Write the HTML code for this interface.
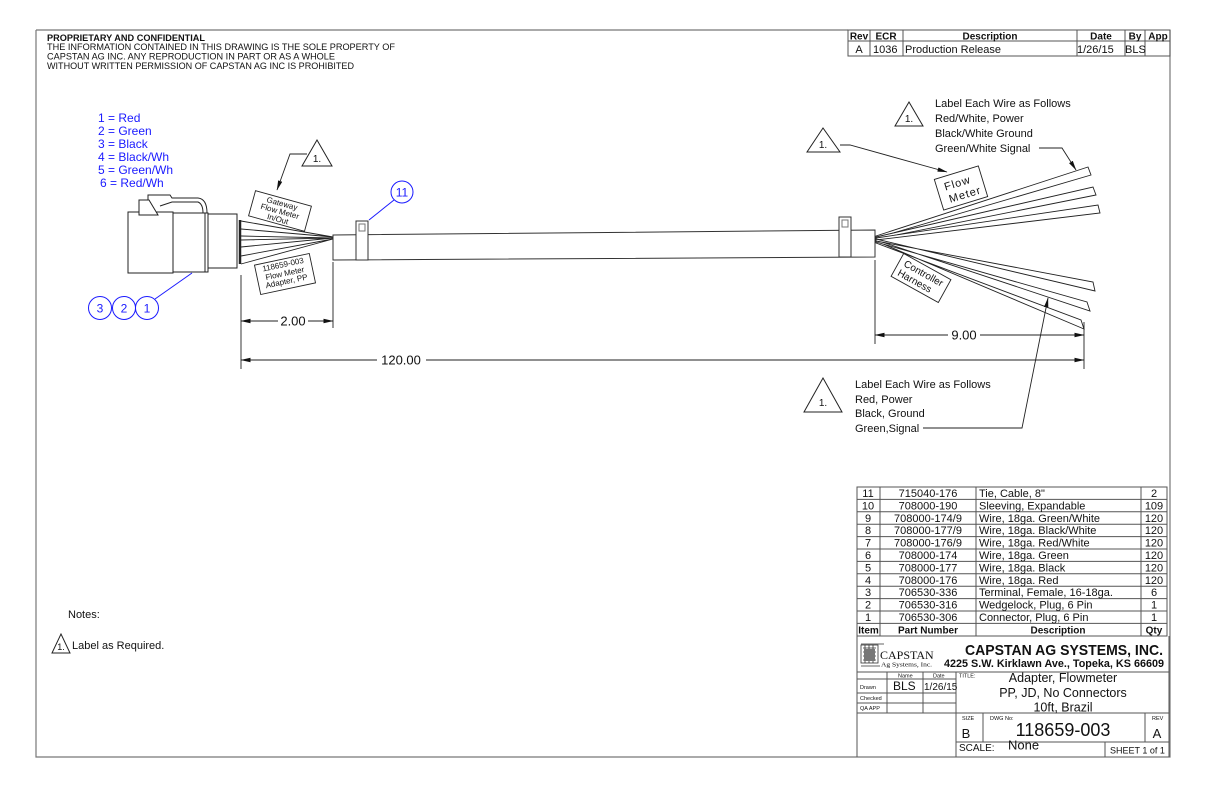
<!DOCTYPE html>
<html><head><meta charset="utf-8"><style>
html,body{margin:0;padding:0;background:#fff;}
svg{display:block;}
text{font-family:"Liberation Sans",sans-serif;fill:#111;}
text.b{fill:#1a1aff;}
text.serif{font-family:"Liberation Serif",serif;}
</style></head><body>
<svg width="1224" height="792" viewBox="0 0 1224 792" xmlns="http://www.w3.org/2000/svg">
<defs>
<marker id="ar" markerWidth="10" markerHeight="6" refX="9.5" refY="3" orient="auto" markerUnits="userSpaceOnUse"><path d="M0,0.8 L10,3 L0,5.2 Z" fill="#111"/></marker>
</defs>
<rect width="1224" height="792" fill="#fff"/>
<!-- frame -->
<g fill="none" stroke="#777" stroke-width="1.2">
<path d="M36,30 H848 M36,30 V757 H1170 V30"/>
</g>
<!-- header -->
<text x="47" y="41" font-size="9.5" font-weight="bold" textLength="158" lengthAdjust="spacingAndGlyphs">PROPRIETARY AND CONFIDENTIAL</text>
<text x="47" y="50" font-size="9.5" textLength="348" lengthAdjust="spacingAndGlyphs">THE INFORMATION CONTAINED IN THIS DRAWING IS THE SOLE PROPERTY OF</text>
<text x="47" y="59.5" font-size="9.5" textLength="288" lengthAdjust="spacingAndGlyphs">CAPSTAN AG INC. ANY REPRODUCTION IN PART OR AS A WHOLE</text>
<text x="47" y="69" font-size="9.5" textLength="307" lengthAdjust="spacingAndGlyphs">WITHOUT WRITTEN PERMISSION OF CAPSTAN AG INC IS PROHIBITED</text>
<!-- rev table -->
<g fill="none" stroke="#555" stroke-width="1">
<rect x="848" y="30" width="322" height="26"/>
<path d="M848,41 H1170 M870,30 V56 M903,30 V56 M1077,30 V56 M1125,30 V56 M1145,30 V56"/>
</g>
<g font-size="10" font-weight="bold" text-anchor="middle">
<text x="859" y="39.5">Rev</text><text x="886" y="39.5">ECR</text><text x="990" y="39.5">Description</text>
<text x="1101" y="39.5">Date</text><text x="1135" y="39.5">By</text><text x="1158" y="39.5">App</text>
</g>
<g font-size="11">
<text x="859" y="53" text-anchor="middle">A</text><text x="873" y="53">1036</text>
<text x="905" y="53">Production Release</text><text x="1077" y="53">1/26/15</text><text x="1125" y="53">BLS</text>
</g>
<!-- color legend -->
<g font-size="12">
<text class="b" x="98" y="122">1 = Red</text>
<text class="b" x="98" y="135">2 = Green</text>
<text class="b" x="98" y="148">3 = Black</text>
<text class="b" x="98" y="161">4 = Black/Wh</text>
<text class="b" x="98" y="174">5 = Green/Wh</text>
<text class="b" x="100" y="187">6 = Red/Wh</text>
</g>
<!-- connector -->
<g fill="#fff" stroke="#222" stroke-width="1">
<path d="M148,200 V195 H170 L172,198 H198 Q207,199 207,213" fill="none"/>
<path d="M160,206 L172,202 H198 Q203,204 203,213" fill="none"/>
<rect x="128" y="212" width="45" height="61"/>
<rect x="173" y="213" width="35" height="59"/>
<line x1="205" y1="213" x2="205" y2="272"/>
<rect x="208" y="214" width="29" height="54"/>
<path d="M139,215 V200 H149 L158,215 Z"/>
</g>
<line x1="240" y1="220" x2="240" y2="264" stroke="#222" stroke-width="2.5"/>
<!-- left wires -->
<g stroke="#222" stroke-width="0.9" fill="none">
<path d="M241,221 L333,237 M241,229 L333,237 M241,236 L333,238 M241,240 L333,238 M241,247 L333,238 M241,256 L333,239 M241,264 L333,239"/>
</g>
<!-- sleeve -->
<polygon points="333,235 875,230 875,257 333,260" fill="#fff" stroke="#333" stroke-width="1"/>
<g fill="#fff" stroke="#333" stroke-width="1">
<rect x="356" y="221" width="12" height="39"/>
<rect x="359" y="224" width="6" height="7" stroke="#777"/>
<rect x="839" y="217" width="12" height="40"/>
<rect x="842" y="220" width="6" height="7" stroke="#777"/>
</g>
<!-- right wires -->
<g fill="#fff" stroke="#222" stroke-width="0.9">
<polygon points="876,236 1088,167 1091,175 876,238"/>
<polygon points="876,237 1093,187 1096,195 876,239"/>
<polygon points="876,238 1098,205 1100,213 876,240"/>
<polygon points="876,243 1081,320 1084,329 876,241"/>
<polygon points="876,242 1087,302 1090,311 876,240"/>
<polygon points="876,241 1093,282 1095,291 876,239"/>
</g>
<!-- labels left -->
<g transform="translate(280,211) rotate(15.5)">
<rect x="-29" y="-13" width="58" height="26" fill="#fff" stroke="#222" stroke-width="0.9"/>
<text x="0" y="-5" font-size="8" text-anchor="middle">Gateway</text>
<text x="0" y="3" font-size="8" text-anchor="middle">Flow Meter</text>
<text x="0" y="11" font-size="8" text-anchor="middle">In/Out</text>
</g>
<g transform="translate(285,274) rotate(-12)">
<rect x="-28" y="-15" width="56" height="30" fill="#fff" stroke="#222" stroke-width="0.9"/>
<text x="0" y="-7" font-size="8" text-anchor="middle">118659-003</text>
<text x="0" y="2" font-size="8" text-anchor="middle">Flow Meter</text>
<text x="0" y="10" font-size="8" text-anchor="middle">Adapter, PP</text>
</g>
<!-- triangle + leader left -->
<polygon points="317,140 302,166 332,166" fill="#fff" stroke="#222" stroke-width="1"/>
<text x="317" y="162" font-size="10" text-anchor="middle">1.</text>
<path d="M307,154 H290 L277,190" fill="none" stroke="#222" stroke-width="0.9" marker-end="url(#ar)"/>
<!-- balloons -->
<g fill="#fff" stroke="#1a1aff" stroke-width="1">
<circle cx="402" cy="192" r="11"/>
<circle cx="100" cy="308" r="11.5"/>
<circle cx="124" cy="308" r="11.5"/>
<circle cx="147" cy="308" r="11.5"/>
<line x1="394" y1="200" x2="369" y2="220"/>
<line x1="155" y1="299" x2="192" y2="273"/>
</g>
<g font-size="12" text-anchor="middle">
<text class="b" x="402" y="196.5">11</text>
<text class="b" x="100" y="312.5">3</text>
<text class="b" x="124" y="312.5">2</text>
<text class="b" x="147" y="312.5">1</text>
</g>
<!-- dimensions -->
<g stroke="#222" stroke-width="0.9" fill="none">
<path d="M241,275 V369 M333,262 V328 M875,260 V344 M1084,322 V369"/>
<path d="M278,321 H241" marker-end="url(#ar)"/><path d="M308,321 H333" marker-end="url(#ar)"/>
<path d="M377,360 H241" marker-end="url(#ar)"/><path d="M426,360 H1084" marker-end="url(#ar)"/>
<path d="M948,335 H875" marker-end="url(#ar)"/><path d="M980,335 H1084" marker-end="url(#ar)"/>
</g>
<g font-size="13" text-anchor="middle">
<text x="293" y="325.5">2.00</text>
<text x="401" y="364.5">120.00</text>
<text x="964" y="339.5">9.00</text>
</g>
<!-- right labels -->
<g transform="translate(961,188) rotate(-17)">
<rect x="-23" y="-16" width="46" height="32" fill="#fff" stroke="#222" stroke-width="0.9"/>
<text x="-2" y="-2" font-size="11" text-anchor="middle" letter-spacing="1">Flow</text>
<text x="2" y="11" font-size="11" text-anchor="middle" letter-spacing="1">Meter</text>
</g>
<g transform="translate(921,278) rotate(29)">
<rect x="-27" y="-13" width="54" height="26" fill="#fff" stroke="#222" stroke-width="0.9"/>
<text x="0" y="-2" font-size="10" text-anchor="middle">Controller</text>
<text x="-4" y="9" font-size="10" text-anchor="middle">Harness</text>
</g>
<polygon points="823,128 807,152 840,152" fill="#fff" stroke="#222" stroke-width="1"/>
<text x="823" y="148" font-size="10" text-anchor="middle">1.</text>
<path d="M840,145 H850 L947,172" fill="none" stroke="#222" stroke-width="0.9" marker-end="url(#ar)"/>
<polygon points="909,102 895,126 923,126" fill="#fff" stroke="#222" stroke-width="1"/>
<text x="909" y="122" font-size="10" text-anchor="middle">1.</text>
<g font-size="11">
<text x="935" y="107">Label Each Wire as Follows</text>
<text x="935" y="122">Red/White, Power</text>
<text x="935" y="137">Black/White Ground</text>
<text x="935" y="152">Green/White Signal</text>
</g>
<path d="M1039,148 H1062 L1076,170" fill="none" stroke="#222" stroke-width="0.9" marker-end="url(#ar)"/>
<polygon points="823,378 804,412 842,412" fill="#fff" stroke="#222" stroke-width="1"/>
<text x="823" y="406" font-size="10" text-anchor="middle">1.</text>
<g font-size="11">
<text x="855" y="388">Label Each Wire as Follows</text>
<text x="855" y="403">Red, Power</text>
<text x="855" y="417">Black, Ground</text>
<text x="855" y="432">Green,Signal</text>
</g>
<path d="M923,428 H1022 L1048,298" fill="none" stroke="#222" stroke-width="0.9" marker-end="url(#ar)"/>
<!-- notes -->
<text x="68" y="618" font-size="11">Notes:</text>
<polygon points="61,634 52,653 70,653" fill="#fff" stroke="#222" stroke-width="1"/>
<text x="61" y="650" font-size="9" text-anchor="middle">1.</text>
<text x="72" y="649" font-size="11">Label as Required.</text>
<!-- BOM -->
<g fill="none" stroke="#555" stroke-width="1">
<rect x="857" y="487" width="310" height="149"/>
<path d="M857,499.4 H1167 M857,511.8 H1167 M857,524.2 H1167 M857,536.6 H1167 M857,549 H1167 M857,561.4 H1167 M857,573.8 H1167 M857,586.2 H1167 M857,598.6 H1167 M857,611 H1167 M857,623.4 H1167"/>
<path d="M880,487 V636 M976,487 V636 M1141,487 V636"/>
</g>
<g font-size="11">
<g text-anchor="middle">
<text x="868" y="497">11</text><text x="868" y="509.4">10</text><text x="868" y="521.8">9</text><text x="868" y="534.2">8</text><text x="868" y="546.6">7</text><text x="868" y="559">6</text><text x="868" y="571.4">5</text><text x="868" y="583.8">4</text><text x="868" y="596.2">3</text><text x="868" y="608.6">2</text><text x="868" y="621">1</text>
<text x="928" y="497">715040-176</text><text x="928" y="509.4">708000-190</text><text x="928" y="521.8">708000-174/9</text><text x="928" y="534.2">708000-177/9</text><text x="928" y="546.6">708000-176/9</text><text x="928" y="559">708000-174</text><text x="928" y="571.4">708000-177</text><text x="928" y="583.8">708000-176</text><text x="928" y="596.2">706530-336</text><text x="928" y="608.6">706530-316</text><text x="928" y="621">706530-306</text>
<text x="1154" y="497">2</text><text x="1154" y="509.4">109</text><text x="1154" y="521.8">120</text><text x="1154" y="534.2">120</text><text x="1154" y="546.6">120</text><text x="1154" y="559">120</text><text x="1154" y="571.4">120</text><text x="1154" y="583.8">120</text><text x="1154" y="596.2">6</text><text x="1154" y="608.6">1</text><text x="1154" y="621">1</text>
</g>
<text x="979" y="497">Tie, Cable, 8"</text>
<text x="979" y="509.4">Sleeving, Expandable</text>
<text x="979" y="521.8">Wire, 18ga. Green/White</text>
<text x="979" y="534.2">Wire, 18ga. Black/White</text>
<text x="979" y="546.6">Wire, 18ga. Red/White</text>
<text x="979" y="559">Wire, 18ga. Green</text>
<text x="979" y="571.4">Wire, 18ga. Black</text>
<text x="979" y="583.8">Wire, 18ga. Red</text>
<text x="979" y="596.2">Terminal, Female, 16-18ga.</text>
<text x="979" y="608.6">Wedgelock, Plug, 6 Pin</text>
<text x="979" y="621">Connector, Plug, 6 Pin</text>
</g>
<g font-size="10" font-weight="bold" text-anchor="middle">
<text x="868.5" y="633.5">Item</text><text x="928" y="633.5">Part Number</text><text x="1058" y="633.5">Description</text><text x="1154" y="633.5">Qty</text>
</g>
<!-- title block -->
<g fill="none" stroke="#555" stroke-width="1">
<path d="M857,636 V757 M857,672 H1169 M857,679 H956 M857,693 H956 M857,703 H956 M857,713 H1169 M887,672 V713 M923,672 V713 M956,672 V757 M983,713 V742 M1145,713 V742 M956,742 H1169 M1105,742 V757 M1169,636 V757"/>
</g>
<!-- logo -->
<g fill="none" stroke="#333" stroke-width="0.8">
<rect x="861" y="645" width="17" height="18"/>
<path d="M861,644 H884 M863,648 H876 M863,652 H876 M863,656 H876 M863,660 H876 M865,645 V663 M869,645 V663 M873,645 V663 M861,666 H880"/>
</g>
<rect x="864" y="649" width="11" height="12" fill="#777"/>
<text class="serif" x="880" y="659" font-size="12">CAPSTAN</text>
<text class="serif" x="881" y="666.5" font-size="6" textLength="51" lengthAdjust="spacingAndGlyphs">Ag Systems, Inc.</text>
<text x="1064" y="655" font-size="15" font-weight="bold" text-anchor="middle" textLength="198" lengthAdjust="spacingAndGlyphs">CAPSTAN AG SYSTEMS, INC.</text>
<text x="944" y="667" font-size="11" font-weight="bold" textLength="220" lengthAdjust="spacingAndGlyphs">4225 S.W. Kirklawn Ave., Topeka, KS 66609</text>
<g font-size="5.5">
<text x="898" y="677.5">Name</text><text x="933" y="677.5">Date</text><text x="959" y="677.5">TITLE:</text>
<text x="860" y="689">Drawn</text><text x="860" y="700">Checked</text><text x="860" y="710">QA APP</text>
<text x="962" y="720">SIZE</text><text x="990" y="720">DWG No:</text><text x="1152" y="720">REV</text>
</g>
<text x="893" y="690" font-size="12">BLS</text>
<text x="924" y="690" font-size="10">1/26/15</text>
<g font-size="12.5" text-anchor="middle">
<text x="1063" y="682">Adapter, Flowmeter</text>
<text x="1063" y="697">PP, JD, No Connectors</text>
<text x="1063" y="711.5">10ft, Brazil</text>
</g>
<text x="966" y="738" font-size="13" text-anchor="middle">B</text>
<text x="1063" y="736" font-size="18" text-anchor="middle">118659-003</text>
<text x="1157" y="738" font-size="13" text-anchor="middle">A</text>
<text x="959" y="751" font-size="10">SCALE:</text>
<text x="1008" y="749.5" font-size="13">None</text>
<text x="1110" y="753.5" font-size="9">SHEET 1 of 1</text>
</svg>
</body></html>
